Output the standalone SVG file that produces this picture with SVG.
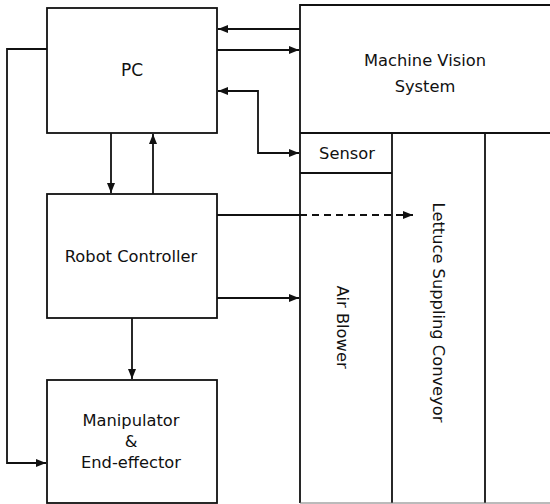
<svg xmlns="http://www.w3.org/2000/svg" width="550" height="504" viewBox="0 0 550 504">
<style>
.box{fill:#fff;stroke:#111;stroke-width:1.8}
.ln{fill:none;stroke:#111;stroke-width:1.8}
.t{font-family:"DejaVu Sans",sans-serif;font-size:16.3px;fill:#111;text-anchor:middle}
</style>
<defs>
<marker id="ah" viewBox="0 0 10 8" refX="10" refY="4" markerWidth="10" markerHeight="8" markerUnits="userSpaceOnUse" orient="auto-start-reverse">
<path d="M0,0 L10,4 L0,8 Z" fill="#111"/>
</marker>
</defs>
<rect width="550" height="504" fill="#fff"/>
<g id="machine-vision">
<path class="ln" d="M300,503 V5 H550"/>
<line class="ln" x1="300" y1="133" x2="550" y2="133"/>
<text class="t" x="425" y="66">Machine Vision</text>
<text class="t" x="425" y="92">System</text>
</g>
<g id="sensor">
<path class="ln" d="M300,173 H392"/>
<text class="t" x="347" y="159">Sensor</text>
</g>
<g id="air-blower">
<line class="ln" x1="392" y1="133" x2="392" y2="503"/>
<text class="t" transform="translate(337,327) rotate(90)">Air Blower</text>
</g>
<g id="conveyor">
<line class="ln" x1="485" y1="133" x2="485" y2="503"/>
<text class="t" transform="translate(433,312.5) rotate(90)">Lettuce Suppling Conveyor</text>
</g>
<line x1="300" y1="503" x2="550" y2="503" stroke="#777" stroke-width="1"/>
<g id="pc">
<rect class="box" x="47" y="8" width="170" height="125"/>
<text class="t" x="132" y="76" style="font-size:17px">PC</text>
</g>
<g id="robot-controller">
<rect class="box" x="47" y="194" width="170" height="124"/>
<text class="t" x="131" y="262">Robot Controller</text>
</g>
<g id="manipulator">
<rect class="box" x="47" y="380" width="170" height="123"/>
<text class="t" x="131" y="426">Manipulator</text>
<text class="t" x="131" y="447">&amp;</text>
<text class="t" x="131" y="468">End-effector</text>
</g>
<g id="connectors">
<line class="ln" x1="300" y1="29" x2="218" y2="29" marker-end="url(#ah)"/>
<line class="ln" x1="217" y1="50" x2="299" y2="50" marker-end="url(#ah)"/>
<path class="ln" d="M218,91 H258 V153 H299" marker-start="url(#ah)" marker-end="url(#ah)"/>
<path class="ln" d="M47,49 H7 V463 H46" marker-end="url(#ah)"/>
<line class="ln" x1="111" y1="133" x2="111" y2="193" marker-end="url(#ah)"/>
<line class="ln" x1="153" y1="194" x2="153" y2="134" marker-end="url(#ah)"/>
<line class="ln" x1="217" y1="215" x2="300" y2="215"/>
<line class="ln" x1="300" y1="215" x2="413" y2="215" stroke-dasharray="7,5" marker-end="url(#ah)"/>
<line class="ln" x1="217" y1="298" x2="299" y2="298" marker-end="url(#ah)"/>
<line class="ln" x1="132" y1="318" x2="132" y2="379" marker-end="url(#ah)"/>
</g>
</svg>
